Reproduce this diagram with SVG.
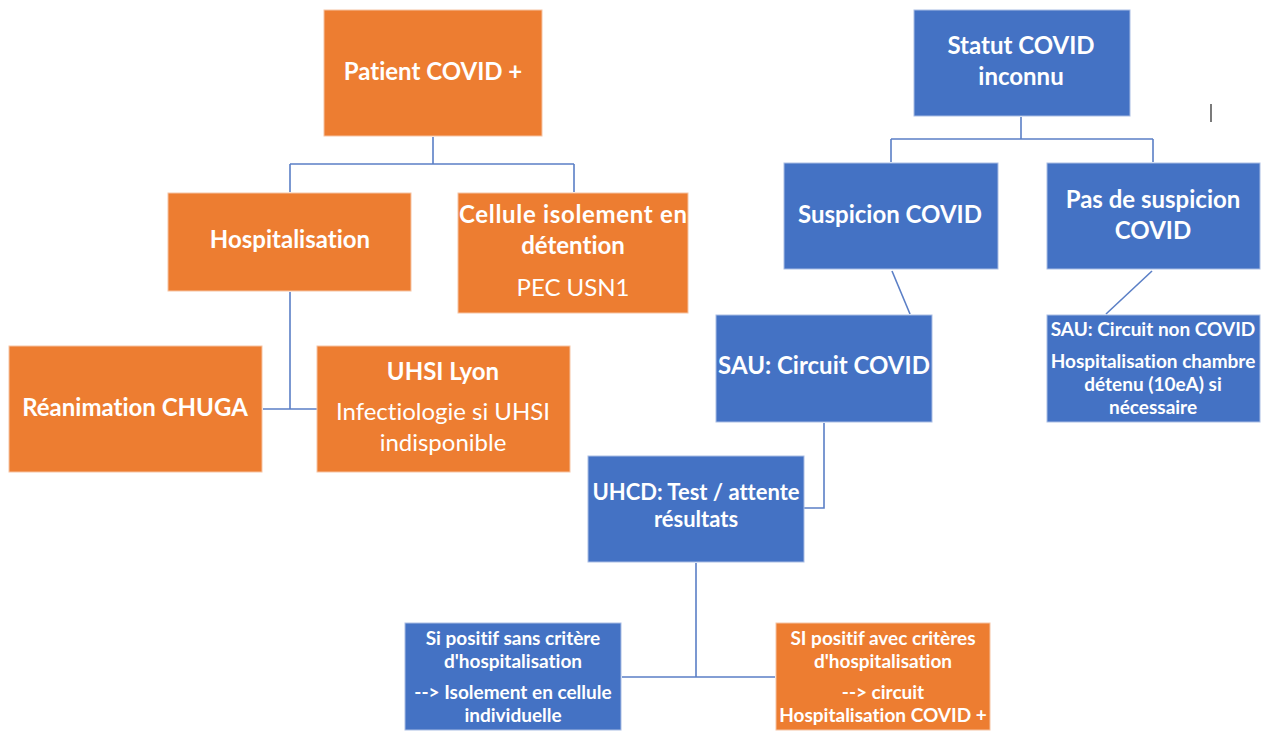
<svg xmlns="http://www.w3.org/2000/svg" width="1264" height="731" viewBox="0 0 1264 731">
<style>
.o{fill:#ED7D31;stroke:#f6c4a3;stroke-width:1}
.b{fill:#4472C4;stroke:#a9bde4;stroke-width:1}
text{font-family:Lato,"Open Sans","Liberation Sans",sans-serif;fill:#fff;text-anchor:middle;font-variant-ligatures:none}
.L{font-size:24px;font-weight:700}
.R{font-size:24px;font-weight:400}
.M{font-size:22px;font-weight:700}
.S{font-size:19px;font-weight:700}
.T{font-size:19px;font-weight:700}
.c{fill:none;stroke:#5b7fc6;stroke-width:1.6}
</style>
<rect width="1264" height="731" fill="#fff"/>
<g id="connectors">
<path class="c" d="M433 137V164M290 164H574M290 164V192M574 164V192"/>
<path class="c" d="M290 292V409M263 409H317"/>
<path class="c" d="M1021 117V139M891 139H1153M891 139V162M1153 139V162"/>
<path class="c" d="M892 271L910 314"/>
<path class="c" d="M1152 271L1106 314"/>
<path class="c" d="M824 423V508H804"/>
<path class="c" d="M696 563V677M622 677H775"/>
</g>
<line x1="1211" y1="104" x2="1211" y2="122" stroke="#222" stroke-width="1.2"/>
<g id="patient-covid">
<rect class="o" x="324" y="10" width="218" height="126"/>
<text class="L" x="433" y="80">Patient COVID +</text>
</g>
<g id="hospitalisation">
<rect class="o" x="168" y="193" width="243" height="98"/>
<text class="L" x="290" y="248">Hospitalisation</text>
</g>
<g id="cellule-isolement">
<rect class="o" x="458" y="193" width="230" height="120"/>
<text class="L" x="573" y="223" textLength="228" lengthAdjust="spacing">Cellule isolement en</text>
<text class="L" x="573" y="254">détention</text>
<text class="R" x="573" y="296">PEC USN1</text>
</g>
<g id="reanimation">
<rect class="o" x="9" y="346" width="253" height="126"/>
<text class="L" x="135" y="416">Réanimation CHUGA</text>
</g>
<g id="uhsi-lyon">
<rect class="o" x="317" y="346" width="253" height="126"/>
<text class="L" x="443" y="380">UHSI Lyon</text>
<text class="R" x="443" y="420">Infectiologie si UHSI</text>
<text class="R" x="443" y="451">indisponible</text>
</g>
<g id="statut-covid">
<rect class="b" x="914" y="10" width="216" height="106"/>
<text class="L" x="1021" y="54">Statut COVID</text>
<text class="L" x="1021" y="85">inconnu</text>
</g>
<g id="suspicion-covid">
<rect class="b" x="784" y="163" width="214" height="106"/>
<text class="L" x="890" y="223">Suspicion COVID</text>
</g>
<g id="pas-de-suspicion">
<rect class="b" x="1047" y="163" width="213" height="106"/>
<text class="L" x="1153" y="208">Pas de suspicion</text>
<text class="L" x="1153" y="239">COVID</text>
</g>
<g id="sau-circuit-covid">
<rect class="b" x="716" y="315" width="216" height="107"/>
<text class="L" x="824" y="374">SAU: Circuit COVID</text>
</g>
<g id="sau-non-covid">
<rect class="b" x="1047" y="315" width="213" height="107"/>
<text class="S" x="1153" y="336">SAU: Circuit non COVID</text>
<text class="S" x="1153" y="368">Hospitalisation chambre</text>
<text class="S" x="1153" y="391">détenu (10eA) si</text>
<text class="S" x="1153" y="414">nécessaire</text>
</g>
<g id="uhcd">
<rect class="b" x="588" y="456" width="216" height="106"/>
<text class="M" x="696" y="500">UHCD: Test / attente</text>
<text class="M" x="696" y="527">résultats</text>
</g>
<g id="positif-sans">
<rect class="b" x="405" y="623" width="216" height="107"/>
<text class="T" x="513" y="645">Si positif sans critère</text>
<text class="T" x="513" y="668">d'hospitalisation</text>
<text class="T" x="513" y="699">--&gt; Isolement en cellule</text>
<text class="T" x="513" y="722">individuelle</text>
</g>
<g id="positif-avec">
<rect class="o" x="776" y="623" width="214" height="107"/>
<text class="T" x="883" y="645">SI positif avec critères</text>
<text class="T" x="883" y="668">d'hospitalisation</text>
<text class="T" x="883" y="699">--&gt; circuit</text>
<text class="T" x="883" y="722">Hospitalisation COVID +</text>
</g>
</svg>
